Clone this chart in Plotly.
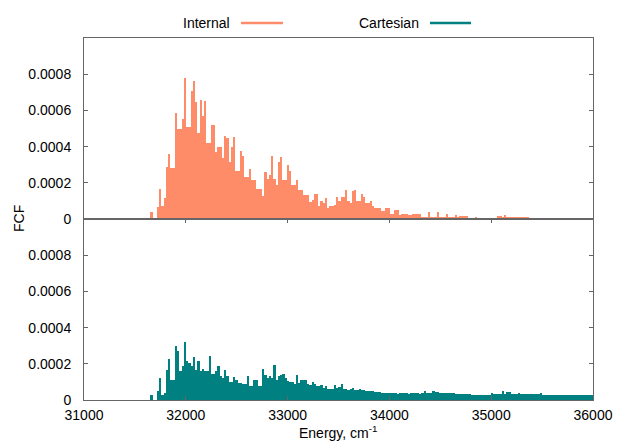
import plotly.graph_objects as go
from plotly.subplots import make_subplots

# ---- data (FCF values, in units of 1e-4) ----
bin_start = 31662   # cm^-1, centre of first bin
bin_step = 22       # cm^-1

internal_e4 = [
    0.40, 0.00, 0.00, 0.68, 1.65, 0.70, 1.18, 2.85, 3.57, 2.80,
    2.80, 5.87, 5.00, 5.00, 5.55, 7.80, 5.10, 5.10, 7.06, 7.60,
    6.47, 4.75, 6.55, 5.70, 6.50, 4.20, 4.20, 5.20, 5.20, 3.68,
    4.00, 4.00, 3.38, 4.56, 4.50, 3.16, 4.00, 4.55, 2.65, 2.65,
    3.77, 3.50, 2.34, 2.34, 2.76, 2.15, 2.15, 1.65, 1.65, 1.65,
    1.27, 2.57, 2.20, 2.43, 3.50, 2.20, 1.90, 3.16, 3.43, 2.15,
    2.15, 2.98, 2.65, 1.90, 1.90, 2.18, 1.60, 1.60, 1.30, 1.30,
    1.30, 0.94, 1.07, 1.40, 1.40, 0.70, 1.00, 0.90, 1.16, 0.60,
    0.70, 0.70, 0.75, 1.20, 1.00, 1.20, 1.20, 1.62, 1.00, 0.90,
    1.53, 1.58, 1.00, 1.00, 1.40, 1.20, 0.90, 0.90, 1.00, 0.70,
    0.60, 0.60, 0.60, 0.44, 0.44, 0.60, 0.60, 0.30, 0.30, 0.50,
    0.50, 0.20, 0.30, 0.30, 0.30, 0.20, 0.20, 0.30, 0.30, 0.30,
    0.30, 0.10, 0.10, 0.10, 0.40, 0.10, 0.10, 0.10, 0.40, 0.10,
    0.10, 0.10, 0.30, 0.10, 0.10, 0.10, 0.20, 0.10, 0.15, 0.15,
    0.15, 0.15, 0.05, 0.05, 0.05, 0.10, 0.05, 0.05, 0.05, 0.05,
    0.05, 0.05, 0.05, 0.05, 0.05, 0.15, 0.15, 0.10, 0.20, 0.10,
    0.10, 0.10, 0.10, 0.10, 0.10, 0.10, 0.10, 0.10, 0.10, 0.04,
    0.04, 0.04, 0.04, 0.04, 0.04, 0.04, 0.02, 0.00, 0.02, 0.00,
    0.02, 0.00, 0.02, 0.00, 0.02, 0.00, 0.02, 0.00, 0.02, 0.00,
    0.02, 0.00, 0.02, 0.00, 0.02, 0.00, 0.02, 0.00,
]

cartesian_e4 = [
    0.29, 0.00, 0.00, 0.48, 1.20, 0.30, 0.40, 1.67, 2.28, 1.12,
    1.10, 3.00, 2.68, 1.58, 1.90, 3.23, 2.13, 2.04, 1.90, 2.35,
    1.67, 2.15, 1.60, 1.70, 1.58, 1.58, 2.45, 1.45, 1.45, 1.60,
    1.86, 1.30, 1.20, 1.67, 1.30, 1.00, 1.00, 1.27, 1.10, 0.92,
    0.95, 0.88, 0.90, 1.30, 0.80, 0.80, 1.10, 1.10, 0.80, 0.80,
    1.70, 1.40, 1.20, 1.30, 1.20, 1.95, 1.12, 1.30, 1.40, 1.45,
    1.20, 1.05, 1.00, 1.00, 0.90, 1.40, 0.95, 1.12, 1.12, 1.12,
    0.90, 0.85, 1.02, 0.90, 0.80, 0.80, 0.83, 0.66, 0.80, 0.60,
    0.60, 0.60, 0.83, 0.66, 0.70, 0.90, 0.60, 0.60, 0.58, 0.62,
    0.66, 0.55, 0.55, 0.62, 0.58, 0.55, 0.50, 0.50, 0.50, 0.50,
    0.45, 0.45, 0.45, 0.40, 0.40, 0.40, 0.37, 0.36, 0.38, 0.37,
    0.35, 0.37, 0.38, 0.36, 0.37, 0.35, 0.37, 0.38, 0.36, 0.37,
    0.35, 0.37, 0.48, 0.40, 0.40, 0.40, 0.50, 0.45, 0.45, 0.40,
    0.40, 0.40, 0.38, 0.40, 0.38, 0.40, 0.33, 0.33, 0.33, 0.33,
    0.33, 0.33, 0.33, 0.28, 0.28, 0.28, 0.28, 0.28, 0.28, 0.28,
    0.28, 0.30, 0.40, 0.33, 0.33, 0.33, 0.33, 0.48, 0.33, 0.45,
    0.45, 0.32, 0.32, 0.32, 0.38, 0.32, 0.32, 0.32, 0.32, 0.32,
    0.32, 0.32, 0.32, 0.32, 0.38, 0.28, 0.28, 0.28, 0.28, 0.28,
    0.28, 0.28, 0.28, 0.28, 0.28, 0.28, 0.28, 0.25, 0.25, 0.25,
    0.25, 0.25, 0.25, 0.25, 0.25, 0.25, 0.25, 0.30,
]

series_names = ["Internal", "Cartesian"]
series_colors = ["#ff8c69", "#008080"]

y_tickvals = [0, 0.0002, 0.0004, 0.0006, 0.0008]
y_ticktext = ["0", "0.0002", "0.0004", "0.0006", "0.0008"]
x_tickvals = [31000, 32000, 33000, 34000, 35000, 36000]
x_ticktext = ["31000", "32000", "33000", "34000", "35000", "36000"]

energies = [bin_start + bin_step * i for i in range(len(internal_e4))]
internal = [v * 1e-4 for v in internal_e4]
cartesian = [v * 1e-4 for v in cartesian_e4]

FONT = "Liberation Sans, Arial, sans-serif"
AX = "#666666"

fig = make_subplots(rows=2, cols=1, shared_xaxes=True, vertical_spacing=0)

for row, (vals, col, name) in enumerate(
        zip([internal, cartesian], series_colors, series_names), start=1):
    fig.add_trace(go.Bar(x=energies, y=vals, width=bin_step, name=name,
                         marker=dict(color=col, line=dict(width=0)),
                         showlegend=False, hoverinfo="skip"), row=row, col=1)

ML, MR, MT, MB = 84, 26, 38, 43
fig.update_layout(
    width=619, height=443,
    margin=dict(l=ML, r=MR, t=MT, b=MB, autoexpand=False),
    paper_bgcolor="white", plot_bgcolor="white",
    bargap=0, showlegend=False,
    font=dict(family=FONT, size=14, color="#000"),
)

common_y = dict(range=[0, 0.001], tickvals=y_tickvals, ticktext=y_ticktext,
                ticks="inside", ticklen=4, tickcolor=AX, showline=True,
                linecolor=AX, linewidth=1, mirror="allticks", showgrid=False,
                zeroline=False, automargin=False, ticklabelstandoff=9,
                tickfont=dict(size=14, family=FONT))
fig.update_yaxes(**common_y, row=1, col=1)
fig.update_yaxes(**common_y, row=2, col=1)

fig.update_xaxes(range=[31000, 36000], showline=True, linecolor=AX, linewidth=1,
                 mirror=True, showgrid=False, zeroline=False, ticks="",
                 showticklabels=False, automargin=False, row=1, col=1)
fig.update_xaxes(range=[31000, 36000], tickvals=x_tickvals, ticktext=x_ticktext,
                 showline=True, linecolor=AX, linewidth=1, mirror="allticks",
                 ticks="inside", ticklen=4, tickcolor=AX, showgrid=False,
                 zeroline=False, showticklabels=True, automargin=False,
                 ticklabelstandoff=2,
                 tickfont=dict(size=14, family=FONT),
                 row=2, col=1)

W = 619 - ML - MR
H = 443 - MT - MB
def px_x(p):
    return (p - ML) / W
def px_y(p):
    return (443 - MB - p) / H

# axis titles
fig.add_annotation(text="Energy, cm<sup>-1</sup>", xref="paper", yref="paper",
                   x=px_x(338), y=px_y(432), xanchor="center", yanchor="middle",
                   showarrow=False, font=dict(size=14, family=FONT))
fig.add_annotation(text="FCF", xref="paper", yref="paper", x=px_x(19), y=px_y(219),
                   showarrow=False, textangle=-90,
                   font=dict(size=14, family=FONT), xanchor="center", yanchor="middle")

# legend (text followed by line sample)
legend_items = [(232, 241, 283), (421, 430, 471)]
for (text_right, l0, l1), name, col in zip(legend_items, series_names, series_colors):
    fig.add_annotation(text=name, xref="paper", yref="paper", x=px_x(text_right),
                       y=px_y(23), xanchor="right", yanchor="middle", showarrow=False,
                       font=dict(size=14, family=FONT))
    fig.add_shape(type="line", xref="paper", yref="paper", x0=px_x(l0), x1=px_x(l1),
                  y0=px_y(23), y1=px_y(23), line=dict(color=col, width=2.5))

fig.write_html("out.html", config={"displayModeBar": False, "staticPlot": True},
               post_script="document.body.style.margin='0';document.body.style.overflow='hidden';")
